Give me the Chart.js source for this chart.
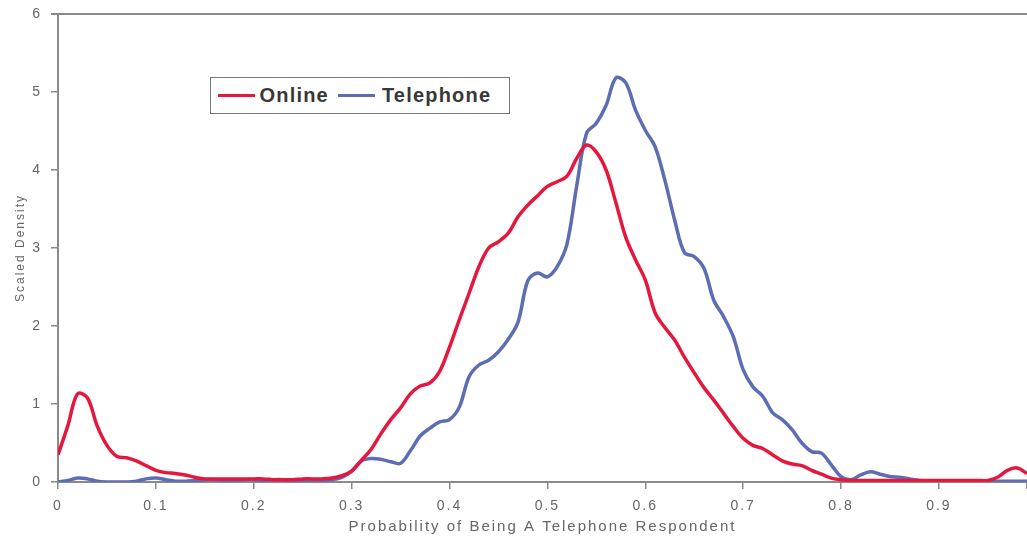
<!DOCTYPE html>
<html>
<head>
<meta charset="utf-8">
<script src="https://cdn.jsdelivr.net/npm/chart.js@4"></script>
<style>
    html, body { margin: 0; padding: 0; background: #fff; }
    #wrap { position: relative; width: 1027px; height: 543px; }
    #legend {
        position: absolute; left: 210px; top: 77px; width: 300px; height: 37px;
        border: 1.5px solid #777; background: #fff; box-sizing: border-box;
        font-family: "Liberation Sans", Arial, sans-serif; font-size: 20px; font-weight: bold;
        letter-spacing: 1.2px; color: #383838;
        display: flex; align-items: center; padding-left: 6.5px;
    }
    #legend .item { display: flex; align-items: center; margin-right: 9px; }
    #legend .swatch { width: 37px; height: 3px; margin-right: 5px; }
    #legend .item + .item .swatch { margin-right: 7px; }
</style>
</head>
<body>
<div id="wrap">
    <canvas id="chart" width="1027" height="543"></canvas>
    <div id="legend"></div>
</div>
<script>
const probability = [
    0.00, 0.01, 0.02, 0.03, 0.04, 0.05, 0.06, 0.07, 0.08, 0.09,
    0.10, 0.11, 0.12, 0.13, 0.14, 0.15, 0.16, 0.17, 0.18, 0.19,
    0.20, 0.21, 0.22, 0.23, 0.24, 0.25, 0.26, 0.27, 0.28, 0.29,
    0.30, 0.31, 0.32, 0.33, 0.34, 0.35, 0.36, 0.37, 0.38, 0.39,
    0.40, 0.41, 0.42, 0.43, 0.44, 0.45, 0.46, 0.47, 0.48, 0.49,
    0.50, 0.51, 0.52, 0.53, 0.54, 0.55, 0.56, 0.57, 0.58, 0.59,
    0.60, 0.61, 0.62, 0.63, 0.64, 0.65, 0.66, 0.67, 0.68, 0.69,
    0.70, 0.71, 0.72, 0.73, 0.74, 0.75, 0.76, 0.77, 0.78, 0.79,
    0.80, 0.81, 0.82, 0.83, 0.84, 0.85, 0.86, 0.87, 0.88, 0.89,
    0.90, 0.91, 0.92, 0.93, 0.94, 0.95, 0.96, 0.97, 0.98, 0.99,
    1.00
];

const online = [
    0.35, 0.72, 1.13, 1.08, 0.72, 0.47, 0.33, 0.31, 0.27, 0.21,
    0.15, 0.12, 0.11, 0.09, 0.06, 0.04, 0.04, 0.04, 0.04, 0.04,
    0.04, 0.04, 0.03, 0.03, 0.03, 0.04, 0.04, 0.04, 0.05, 0.08,
    0.14, 0.28, 0.42, 0.62, 0.80, 0.95, 1.13, 1.23, 1.27, 1.42,
    1.73, 2.08, 2.42, 2.76, 3.00, 3.08, 3.19, 3.40, 3.55, 3.67,
    3.79, 3.85, 3.92, 4.15, 4.32, 4.23, 4.00, 3.58, 3.14, 2.85,
    2.59, 2.17, 1.98, 1.82, 1.60, 1.40, 1.21, 1.05, 0.88, 0.71,
    0.56, 0.47, 0.43, 0.35, 0.27, 0.23, 0.21, 0.15, 0.10, 0.05,
    0.03, 0.02, 0.02, 0.02, 0.02, 0.02, 0.02, 0.02, 0.02, 0.02,
    0.02, 0.02, 0.02, 0.02, 0.02, 0.02, 0.06, 0.15, 0.18, 0.11,
    0.05
];

const telephone = [
    0.00, 0.02, 0.05, 0.04, 0.01, 0.00, 0.00, 0.00, 0.01, 0.04,
    0.05, 0.03, 0.01, 0.01, 0.02, 0.03, 0.03, 0.02, 0.02, 0.03,
    0.03, 0.02, 0.03, 0.03, 0.01, 0.01, 0.01, 0.02, 0.03, 0.06,
    0.14, 0.27, 0.30, 0.29, 0.26, 0.24, 0.40, 0.59, 0.69, 0.77,
    0.80, 0.96, 1.35, 1.50, 1.56, 1.67, 1.83, 2.05, 2.58, 2.68,
    2.63, 2.76, 3.05, 3.80, 4.47, 4.60, 4.83, 5.18, 5.12, 4.77,
    4.51, 4.30, 3.87, 3.36, 2.94, 2.89, 2.74, 2.33, 2.12, 1.86,
    1.44, 1.22, 1.10, 0.89, 0.80, 0.67, 0.50, 0.39, 0.37, 0.22,
    0.07, 0.03, 0.09, 0.13, 0.10, 0.07, 0.06, 0.04, 0.02, 0.01,
    0.01, 0.01, 0.01, 0.01, 0.01, 0.01, 0.01, 0.01, 0.01, 0.01,
    0.01
];

const seriesNames = ['Online', 'Telephone'];
const seriesColors = ['#e5173d', '#5d6db4'];

const toPoints = (ys) => probability.map((x, i) => ({ x: x, y: ys[i] }));

// wide-looking text like the original, plus the top frame line
const chartLook = {
    id: 'chartLook',
    beforeDraw(chart) {
        chart.ctx.letterSpacing = '2px';
    },
    afterDraw(chart) {
        const { ctx, chartArea } = chart;
        ctx.letterSpacing = '0px';
        ctx.save();
        ctx.strokeStyle = '#8a8a8a';
        ctx.lineWidth = 2;
        ctx.beginPath();
        ctx.moveTo(chartArea.left - 7, chartArea.top);
        ctx.lineTo(chartArea.right, chartArea.top);
        ctx.stroke();
        ctx.restore();
    }
};

const fontFamily = '"Liberation Sans", Arial, sans-serif';

new Chart(document.getElementById('chart'), {
    type: 'line',
    data: {
        datasets: [
            {
                label: seriesNames[0],
                data: toPoints(online),
                borderColor: seriesColors[0],
                borderWidth: 3.5,
                pointRadius: 0,
                tension: 0.35,
                fill: false
            },
            {
                label: seriesNames[1],
                data: toPoints(telephone),
                borderColor: seriesColors[1],
                borderWidth: 3.5,
                pointRadius: 0,
                tension: 0.35,
                fill: false
            }
        ]
    },
    options: {
        responsive: false,
        animation: false,
        layout: { padding: { top: 14, right: 0, left: 0, bottom: 0 } },
        scales: {
            x: {
                type: 'linear',
                min: 0,
                max: 0.99,
                afterFit(scale) {
                    scale.height = 61;
                    scale.paddingLeft = 0;
                    scale.paddingRight = 0;
                },
                border: { color: '#8a8a8a', width: 2 },
                grid: { drawOnChartArea: false, tickLength: 7, color: '#8a8a8a', lineWidth: 1.5 },
                ticks: {
                    stepSize: 0.1,
                    color: '#666',
                    font: { family: fontFamily, size: 14 },
                    padding: 9,
                    maxRotation: 0,
                    callback: (v) => (v > 0.95 ? '' : Math.round(v * 10) / 10)
                },
                title: {
                    display: true,
                    text: 'Probability of Being A Telephone Respondent',
                    color: '#666',
                    font: { family: fontFamily, size: 15 },
                    padding: { top: 0, bottom: 7 }
                }
            },
            y: {
                min: 0,
                max: 6,
                afterFit(scale) {
                    scale.width = 58;
                    scale.paddingTop = 0;
                    scale.paddingBottom = 0;
                },
                border: { color: '#8a8a8a', width: 2 },
                grid: { drawOnChartArea: false, tickLength: 7, color: '#8a8a8a', lineWidth: 1.5 },
                ticks: { stepSize: 1, color: '#666', font: { family: fontFamily, size: 14 }, padding: 9 },
                title: {
                    display: true,
                    text: 'Scaled Density',
                    color: '#666',
                    font: { family: fontFamily, size: 12 },
                    padding: { top: 13, bottom: 0 }
                }
            }
        },
        plugins: {
            legend: { display: false },
            tooltip: { enabled: false }
        }
    },
    plugins: [chartLook]
});

// boxed legend inside the plot
const legendEl = document.getElementById('legend');
seriesNames.forEach((name, i) => {
    const item = document.createElement('div');
    item.className = 'item';
    const sw = document.createElement('span');
    sw.className = 'swatch';
    sw.style.background = seriesColors[i];
    const txt = document.createElement('span');
    txt.textContent = name;
    item.appendChild(sw);
    item.appendChild(txt);
    legendEl.appendChild(item);
});
</script>
</body>
</html>
